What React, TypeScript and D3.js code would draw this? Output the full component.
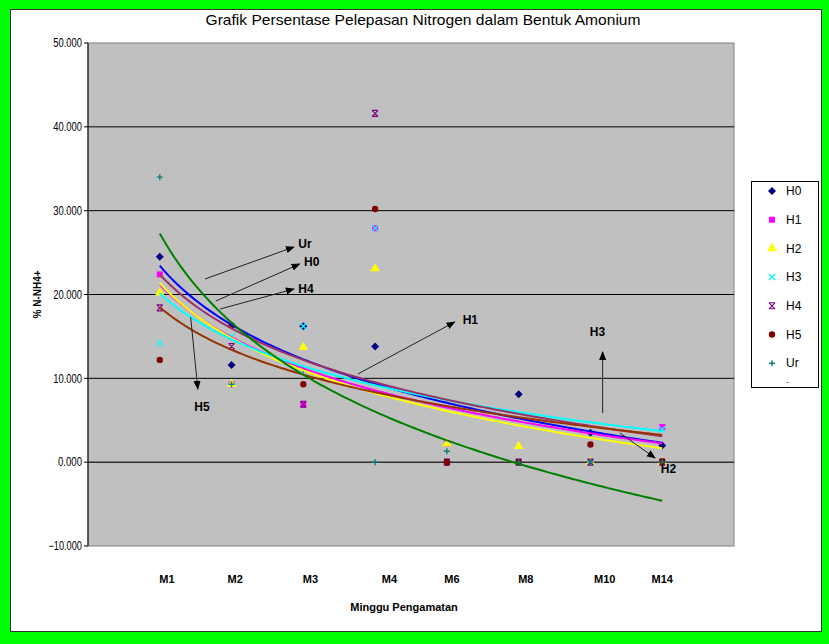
import { useMemo } from "react";
import * as d3 from "d3";

// weeks of observation
const categories = ["M1", "M2", "M3", "M4", "M6", "M8", "M10", "M14"];
const weekIndex = [1, 2, 3, 4, 5, 6, 7, 8];

// % N-NH4+ per treatment (hidden points estimated)
const h0 = [24.5, 11.6, 16.2, 13.8, 0, 8.1, 3.5, 2.0];
const h1 = [22.4, 9.3, 6.9, 27.9, 2.2, 0, 0, 4.2];
const h2 = [20.2, 9.3, 13.7, 23.1, 2.2, 1.9, 0, 0];
const h3 = [14.2, 15.0, 16.2, 27.9, 0, 0, 0, 3.9];
const h4 = [18.4, 13.8, 6.9, 41.6, 0, 0, 0, 0];
const h5 = [12.2, 16.3, 9.3, 30.2, 0, 0, 2.1, 0.1];
const ur = [34.0, 9.3, 11.0, 0, 1.3, 0, 0, 0];

const seriesNames = ["H0", "H1", "H2", "H3", "H4", "H5", "Ur"];
const seriesValues = [h0, h1, h2, h3, h4, h5, ur];

const yTicks = [-10, 0, 10, 20, 30, 40, 50];

// where the category text boxes sit along the x axis (in week units)
const labelPos = [1.1, 2.05, 3.1, 4.2, 5.07, 6.1, 7.2, 8.0];

// arrow callouts, in chart units: [x1, y1, x2, y2, labelX, labelY]
const callouts: [string, number[]][] = [
  ["Ur", [1.63, 21.85, 2.87, 25.67, 2.93, 26.1]],
  ["H0", [1.78, 19.22, 2.95, 23.64, 3.01, 23.9]],
  ["H4", [1.84, 18.27, 2.87, 20.66, 2.93, 20.66]],
  ["H5", [1.43, 17.31, 1.53, 8.73, 1.48, 6.58]],
  ["H1", [3.76, 10.52, 5.11, 16.72, 5.22, 16.96]],
  ["H3", [7.17, 5.86, 7.17, 13.14, 6.99, 15.53]],
  ["H2", [7.41, 3.48, 7.9, 0.5, 7.98, -0.82]],
];

const markerColor: Record<string, string> = {
  H0: "#000080",
  H1: "#ff00ff",
  H2: "#ffff00",
  H3: "#00ffff",
  H4: "#800080",
  H5: "#800000",
  Ur: "#008080",
};
const trendColor: Record<string, string> = {
  H0: "#0000ff",
  H1: "#ff00ff",
  H2: "#ffff00",
  H3: "#00ffff",
  H4: "#993366",
  H5: "#993300",
  Ur: "#008000",
};

const font = "'Liberation Sans Narrow', 'Arial Narrow', 'Liberation Sans', Arial, sans-serif";

const W = 829;
const H = 644;
const margin = { top: 43, right: 95, bottom: 98, left: 88 };

// Excel style logarithmic trendline  y = a ln(x) + b
function logFit(ys: number[]) {
  const lx = weekIndex.map((x) => Math.log(x));
  const lm = d3.mean(lx)!;
  const ym = d3.mean(ys)!;
  let sxy = 0;
  let sxx = 0;
  lx.forEach((l, i) => {
    sxy += (l - lm) * (ys[i] - ym);
    sxx += (l - lm) * (l - lm);
  });
  const a = sxy / sxx;
  return { a, b: ym - a * lm };
}

function Marker({ name, x, y }: { name: string; x: number; y: number }) {
  const c = markerColor[name];
  const t = `translate(${x},${y})`;
  if (name === "H0") return <path transform={t} d="M0,-4L4,0L0,4L-4,0Z" fill={c} />;
  if (name === "H1") return <path transform={t} d={d3.symbol(d3.symbolSquare, 36)()!} fill={c} />;
  if (name === "H2") return <path transform={t} d={d3.symbol(d3.symbolTriangle, 40)()!} fill={c} />;
  if (name === "H5") return <path transform={t} d={d3.symbol(d3.symbolCircle, 32)()!} fill={c} />;
  if (name === "H3") return <path transform={t} d="M-3,-3L3,3M3,-3L-3,3" stroke={c} strokeWidth={1.4} fill="none" />;
  if (name === "H4")
    return <path transform={t} d="M-3,-3L3,3M3,-3L-3,3M-3,-3L3,-3M-3,3L3,3" stroke={c} strokeWidth={1.1} fill="none" />;
  return <path transform={t} d="M-3,0L3,0M0,-3L0,3" stroke={c} strokeWidth={1.4} fill="none" />;
}

export default function App() {
  const x = useMemo(() => d3.scaleLinear().domain([0, 9]).range([margin.left, W - margin.right]), []);
  const y = useMemo(() => d3.scaleLinear().domain([-10, 50]).range([H - margin.bottom, margin.top]), []);

  const trends = useMemo(
    () =>
      seriesValues.map((vals) => {
        const { a, b } = logFit(vals);
        const line = d3
          .line<number>()
          .x((d) => x(d))
          .y((d) => y(a * Math.log(d) + b));
        return line(d3.range(1, 8.0001, 0.05))!;
      }),
    [x, y]
  );

  const x0 = x.range()[0];
  const x1 = x.range()[1];
  const fmt = d3.format(".3f");

  return (
    <svg width={W} height={H} style={{ position: "absolute", left: 0, top: 0 }} fontFamily={font}>
      <defs>
        <marker id="ah" viewBox="0 0 10 10" refX="9" refY="5" markerWidth="9" markerHeight="9" orient="auto" markerUnits="userSpaceOnUse">
          <path d="M0,1L10,5L0,9Z" fill="#000" />
        </marker>
      </defs>
      <rect x={0} y={0} width={W} height={H} fill="#00ff00" />
      <rect x={10.5} y={9.5} width={811} height={622} fill="#fff" stroke="#303030" />

      <text x={423} y={20} dy="0.35em" textAnchor="middle" fontSize={15} fill="#000" textLength={435} lengthAdjust="spacingAndGlyphs">
        Grafik Persentase Pelepasan Nitrogen dalam Bentuk Amonium
      </text>

      {/* plot area */}
      <rect x={x0} y={y(50)} width={x1 - x0} height={y(-10) - y(50)} fill="#c0c0c0" stroke="#808080" />
      {yTicks
        .filter((t) => t > -10 && t < 50)
        .map((t) => (
          <line key={t} x1={x0} x2={x1} y1={y(t)} y2={y(t)} stroke={t === 0 ? "#303030" : "#000"} strokeWidth={t === 0 ? 1.5 : 1} />
        ))}
      <line x1={x0} x2={x0} y1={y(50)} y2={y(-10)} stroke="#000" />
      {yTicks.map((t) => (
        <g key={t}>
          <line x1={x0 - 4} x2={x0} y1={y(t)} y2={y(t)} stroke="#000" />
          <text
            x={x0 - 6}
            y={y(t)}
            dy="0.35em"
            textAnchor="end"
            fontSize={12}
            textLength={fmt(t).length * 4.8}
            lengthAdjust="spacingAndGlyphs"
          >
            {fmt(t)}
          </text>
        </g>
      ))}

      {/* markers */}
      {seriesValues.map((vals, si) =>
        vals.map((v, i) => <Marker key={`${si}-${i}`} name={seriesNames[si]} x={x(weekIndex[i])} y={y(v)} />)
      )}

      {/* trendlines */}
      {trends.map((d, i) => (
        <path key={i} d={d} fill="none" stroke={trendColor[seriesNames[i]]} strokeWidth={2} />
      ))}

      {/* callouts */}
      {callouts.map(([name, p]) => (
        <g key={name}>
          <line x1={x(p[0])} y1={y(p[1])} x2={x(p[2])} y2={y(p[3])} stroke="#222" strokeWidth={1} markerEnd="url(#ah)" />
          <text x={x(p[4])} y={y(p[5])} dy="0.35em" fontSize={12} fontWeight="bold">
            {name}
          </text>
        </g>
      ))}

      {/* category labels */}
      {categories.map((c, i) => (
        <text key={c} x={x(labelPos[i])} y={579} dy="0.35em" textAnchor="middle" fontSize={11} fontWeight="bold">
          {c}
        </text>
      ))}
      <text x={404} y={607} dy="0.35em" textAnchor="middle" fontSize={11} fontWeight="bold">
        Minggu Pengamatan
      </text>
      <text transform={`translate(37,${(y(50) + y(-10)) / 2}) rotate(-90)`} textAnchor="middle" dy="0.35em" fontSize={10} fontWeight="bold">
        % N-NH4+
      </text>

      {/* legend */}
      <rect x={751.5} y={181.5} width={67} height={206} fill="#fff" stroke="#000" />
      {seriesNames.map((n, i) => (
        <g key={n}>
          <Marker name={n} x={772} y={191 + i * 28.7} />
          <text x={786} y={191 + i * 28.7} dy="0.35em" fontSize={12}>
            {n}
          </text>
        </g>
      ))}
      <text x={786} y={383} fontSize={10}>
        .
      </text>
    </svg>
  );
}
